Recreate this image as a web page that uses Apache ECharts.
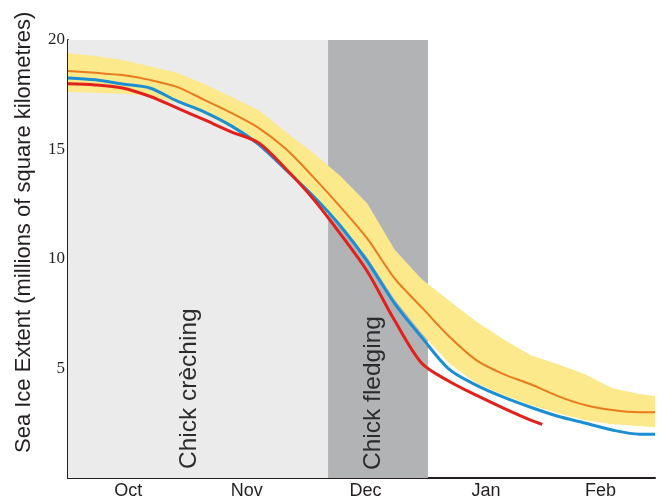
<!DOCTYPE html>
<html>
<head>
<meta charset="utf-8">
<script src="https://cdn.jsdelivr.net/npm/echarts@6/dist/echarts.min.js"></script>
<style>
  html, body { margin: 0; padding: 0; background: #fff; }
  #myChart { width: 659px; height: 500px; }
</style>
</head>
<body>
<div id="myChart"></div>
<script>
// days since 1 Oct
var days = [0, 7, 14, 21, 28, 35, 42, 49, 56, 63, 70, 77, 84, 91, 98, 105, 112, 119, 126, 133, 140, 147, 151];
// mean extent (orange) and its range (yellow band)
var iceMean  = [18.59, 18.5, 18.4, 18.18, 17.86, 17.27, 16.67, 15.99, 15.03, 13.76, 12.39, 10.93, 9.11, 7.79, 6.47, 5.38, 4.74, 4.28, 3.74, 3.33, 3.1, 3.0, 3.0];
var iceUpper = [19.41, 19.27, 19.09, 18.8, 18.5, 18.0, 17.4, 16.8, 15.8, 14.85, 13.8, 12.53, 10.43, 9.07, 8.11, 7.15, 6.33, 5.6, 5.19, 4.74, 4.1, 3.83, 3.74];
var iceLower = [17.63, 17.59, 17.54, 17.45, 17.13, 16.63, 15.99, 15.22, 14.03, 12.89, 11.57, 10.07, 8.15, 6.61, 5.24, 4.33, 3.78, 3.33, 2.96, 2.64, 2.46, 2.37, 2.32];
var iceBlue  = [18.27, 18.18, 17.99, 17.81, 17.22, 16.72, 16.08, 15.24, 14.08, 12.89, 11.53, 9.89, 7.97, 6.42, 4.97, 4.24, 3.69, 3.23, 2.82, 2.51, 2.19, 2.0, 2.0];
var redDays  = [0, 7, 14, 21, 28, 35, 42, 49, 56, 63, 70, 77, 84, 91, 98, 105, 112, 119, 122];
var iceRed   = [18.0, 17.95, 17.81, 17.43, 16.9, 16.36, 15.81, 15.31, 14.12, 12.76, 11.16, 9.43, 7.2, 5.24, 4.42, 3.78, 3.19, 2.64, 2.45];

var months = ['Oct', 'Nov', 'Dec', 'Jan', 'Feb'];
var monthMid = [15.5, 46, 76.5, 107.5, 137];
var creching = [0, 66.9];
var fledging = [66.9, 92.6];

function pairs(xs, ys) {
  return xs.map(function (x, i) { return [x, ys[i]]; });
}

// yellow range drawn as one polygon: upper edge forward, lower edge back
function renderBand(params, api) {
  if (params.dataIndex !== 0) return;
  var pts = [];
  for (var i = 0; i < days.length; i++) pts.push(api.coord([days[i], iceUpper[i]]));
  for (var j = days.length - 1; j >= 0; j--) pts.push(api.coord([days[j], iceLower[j]]));
  return {
    type: 'polygon',
    shape: { points: pts },
    style: { fill: '#fbe98b' }
  };
}

var myChart = echarts.init(document.getElementById('myChart'));
myChart.setOption({
  animation: false,
  grid: { left: 68, right: 4, top: 40, bottom: 21 },
  xAxis: {
    type: 'value',
    min: 0,
    max: 151,
    axisLine: { lineStyle: { color: '#231f20', width: 2 } },
    axisTick: { show: false },
    splitLine: { show: false },
    axisLabel: {
      customValues: monthMid,
      margin: 4,
      fontFamily: 'Liberation Sans',
      fontSize: 18,
      color: '#231f20',
      formatter: function (v) {
        var best = 0;
        for (var i = 1; i < monthMid.length; i++) {
          if (Math.abs(monthMid[i] - v) < Math.abs(monthMid[best] - v)) best = i;
        }
        return months[best];
      }
    }
  },
  yAxis: {
    type: 'value',
    min: 0,
    max: 20,
    interval: 5,
    axisLine: { show: true, lineStyle: { color: '#231f20', width: 2 } },
    axisTick: { show: false },
    splitLine: { show: false },
    axisLabel: {
      showMinLabel: false,
      margin: 3,
      fontFamily: 'Liberation Serif',
      fontSize: 17,
      color: '#231f20'
    }
  },
  graphic: [
    {
      type: 'text', x: 24, y: 453, rotation: Math.PI / 2, z: 10,
      style: {
        text: 'Sea Ice Extent (millions of square kilometres)',
        font: '22px "Liberation Sans"', fill: '#231f20',
        textAlign: 'left', textVerticalAlign: 'middle'
      }
    },
    {
      type: 'text', x: 189, y: 469, rotation: Math.PI / 2, z: 10,
      style: {
        text: 'Chick crèching',
        font: '24.5px "Liberation Sans"', fill: '#2b2b2b',
        textAlign: 'left', textVerticalAlign: 'middle'
      }
    },
    {
      type: 'text', x: 373, y: 470, rotation: Math.PI / 2, z: 10,
      style: {
        text: 'Chick fledging',
        font: '24.5px "Liberation Sans"', fill: '#2b2b2b',
        textAlign: 'left', textVerticalAlign: 'middle'
      }
    }
  ],
  series: [
    {
      name: 'periods',
      type: 'line',
      z: 1,
      data: [],
      markArea: {
        silent: true,
        data: [
          [{ xAxis: creching[0], yAxis: 0, itemStyle: { color: '#ebebeb' } }, { xAxis: creching[1], yAxis: 20 }],
          [{ xAxis: fledging[0], yAxis: 0, itemStyle: { color: '#b2b3b5' } }, { xAxis: fledging[1], yAxis: 20 }]
        ]
      }
    },
    {
      name: 'range',
      type: 'custom',
      z: 2,
      clip: true,
      renderItem: renderBand,
      encode: { x: 0, y: [1, 2] },
      data: days.map(function (d, i) { return [d, iceLower[i], iceUpper[i]]; })
    },
    {
      name: 'mean',
      type: 'line',
      z: 3,
      symbol: 'none',
      smooth: 0.3,
      lineStyle: { color: '#ea7a1e', width: 2 },
      data: pairs(days, iceMean)
    },
    {
      name: 'blue',
      type: 'line',
      z: 3,
      symbol: 'none',
      smooth: 0.3,
      lineStyle: { color: '#1b8fd2', width: 3 },
      data: pairs(days, iceBlue)
    },
    {
      name: 'red',
      type: 'line',
      z: 3,
      symbol: 'none',
      smooth: 0.3,
      lineStyle: { color: '#e2201c', width: 3 },
      data: pairs(redDays, iceRed)
    }
  ]
});
</script>
</body>
</html>
